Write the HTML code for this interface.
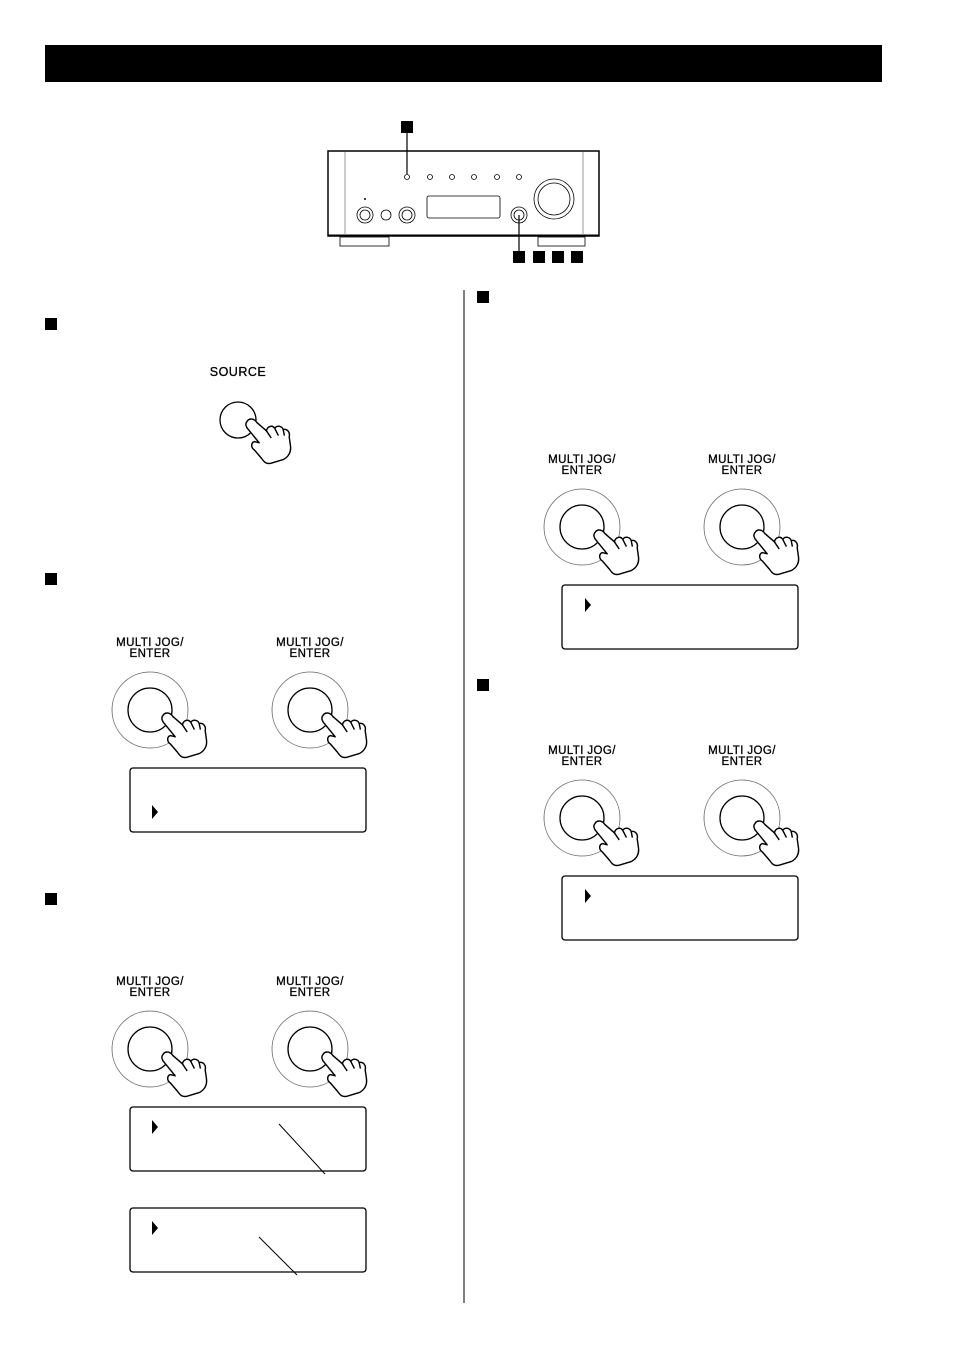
<!DOCTYPE html>
<html><head><style>
body{margin:0;background:#fff;}
svg{display:block;font-family:"Liberation Sans",sans-serif;}
</style></head><body>
<svg width="954" height="1350" viewBox="0 0 954 1350" xmlns="http://www.w3.org/2000/svg">
<defs>
<g id="hand" fill="#fff" stroke="#000" stroke-width="1.2" stroke-linejoin="round">
<path d="M-4,-4 C-2,-7 2,-6 4,-3 L12,4 C13,0 17,-1 19,2 C21,-1 25,0 26,3 C29,2 32,5 31,9 L32,16 C33,22 30,26 26,28 L16,31 C12,32 10,30 8,27 L2,20 C-1,18 -1,14 2,13 L6,14 L-3,3 C-5,1 -6,-2 -4,-4 Z"/>
<path d="M12,4 L16,10 M19,2 L22,8 M26,3 L27,8" fill="none"/>
</g>
<g id="knob">
<circle cx="0" cy="0" r="38" fill="none" stroke="#666" stroke-width="0.8"/>
<circle cx="0" cy="0" r="22" fill="none" stroke="#000" stroke-width="1.3"/>
<use href="#hand" transform="translate(18,10) scale(1.2)"/>
</g>
<g id="pair" font-size="11.5" text-anchor="middle" letter-spacing="0.4" stroke="#000" stroke-width="0.3">
<text x="0" y="0">MULTI JOG/</text>
<text x="0" y="11">ENTER</text>
<text x="160" y="0">MULTI JOG/</text>
<text x="160" y="11">ENTER</text>
</g>
<g id="knobs">
<use href="#knob" transform="translate(0,64)"/>
<use href="#knob" transform="translate(160,64)"/>
</g>
<path id="tri" d="M0,0 L6,7 L0,14 Z" fill="#000"/>
</defs>

<rect x="45" y="45" width="837" height="37" fill="#000"/>

<!-- amplifier -->
<g stroke="#000" fill="none">
<rect x="328" y="151" width="271" height="85" stroke-width="1.5"/>
<line x1="328" y1="235.5" x2="599" y2="235.5" stroke-width="2"/>
<line x1="345" y1="152" x2="345" y2="235" stroke="#999"/>
<line x1="583" y1="152" x2="583" y2="235" stroke="#999"/>
<rect x="340" y="237" width="49" height="9" stroke-width="0.8"/>
<rect x="538" y="237" width="47" height="9" stroke-width="0.8"/>
<g stroke-width="0.8">
<circle cx="407" cy="177" r="2.5"/><circle cx="430" cy="177" r="2.5"/><circle cx="452" cy="177" r="2.5"/>
<circle cx="474" cy="177" r="2.5"/><circle cx="497" cy="177" r="2.5"/><circle cx="519" cy="177" r="2.5"/>
<rect x="427" y="196" width="73" height="22" rx="2"/>
<circle cx="554" cy="199" r="20"/><circle cx="554" cy="199" r="16"/>
<circle cx="365" cy="215" r="8"/><circle cx="365" cy="215" r="5"/>
<circle cx="386" cy="215" r="5"/>
<circle cx="407" cy="215" r="8"/><circle cx="407" cy="215" r="5"/>
<circle cx="519" cy="215" r="8"/><circle cx="519" cy="215" r="5"/>
</g>
<line x1="407" y1="133" x2="407" y2="174" stroke-width="1.2"/>
<line x1="519" y1="215" x2="519" y2="251" stroke-width="1.2"/>
</g>
<circle cx="365" cy="199" r="1" fill="#000"/>
<rect x="401" y="121" width="12" height="12" fill="#000"/>
<rect x="513" y="251" width="12" height="12" fill="#000"/>
<rect x="533" y="251" width="12" height="12" fill="#000"/>
<rect x="552" y="251" width="12" height="12" fill="#000"/>
<rect x="571" y="251" width="12" height="12" fill="#000"/>

<!-- section squares -->
<rect x="45" y="318" width="12" height="12" fill="#000"/>
<rect x="45" y="573" width="12" height="12" fill="#000"/>
<rect x="45" y="893" width="12" height="12" fill="#000"/>
<rect x="477" y="291" width="12" height="12" fill="#000"/>
<rect x="477" y="679" width="12" height="12" fill="#000"/>

<line x1="464" y1="290" x2="464" y2="1303" stroke="#000" stroke-width="1"/>

<!-- source -->
<text x="238" y="376" font-size="12.5" text-anchor="middle" letter-spacing="0.5" stroke="#000" stroke-width="0.3">SOURCE</text>
<circle cx="238" cy="420" r="18" fill="none" stroke="#000" stroke-width="1.3"/>
<use href="#hand" transform="translate(252,426) scale(1.2)"/>

<!-- section 2 -->
<use href="#pair" transform="translate(150,646)"/>
<use href="#knobs" transform="translate(150,646)"/>
<rect x="130" y="768" width="236" height="64" rx="3" fill="none" stroke="#000" stroke-width="1.3"/>
<use href="#tri" transform="translate(152,805)"/>

<!-- section 3 -->
<use href="#pair" transform="translate(150,985)"/>
<use href="#knobs" transform="translate(150,985)"/>
<rect x="130" y="1107" width="236" height="64" rx="3" fill="none" stroke="#000" stroke-width="1.3"/>
<use href="#tri" transform="translate(152,1120)"/>
<line x1="279" y1="1124" x2="325" y2="1174" stroke="#000"/>
<rect x="130" y="1208" width="236" height="64" rx="3" fill="none" stroke="#000" stroke-width="1.3"/>
<use href="#tri" transform="translate(152,1221)"/>
<line x1="259" y1="1237" x2="297" y2="1275" stroke="#000"/>

<!-- section 4 -->
<use href="#pair" transform="translate(582,463)"/>
<use href="#knobs" transform="translate(582,463)"/>
<rect x="562" y="585" width="236" height="64" rx="3" fill="none" stroke="#000" stroke-width="1.3"/>
<use href="#tri" transform="translate(585,598)"/>

<!-- section 5 -->
<use href="#pair" transform="translate(582,754)"/>
<use href="#knobs" transform="translate(582,754)"/>
<rect x="562" y="876" width="236" height="64" rx="3" fill="none" stroke="#000" stroke-width="1.3"/>
<use href="#tri" transform="translate(585,889)"/>
</svg>
</body></html>
